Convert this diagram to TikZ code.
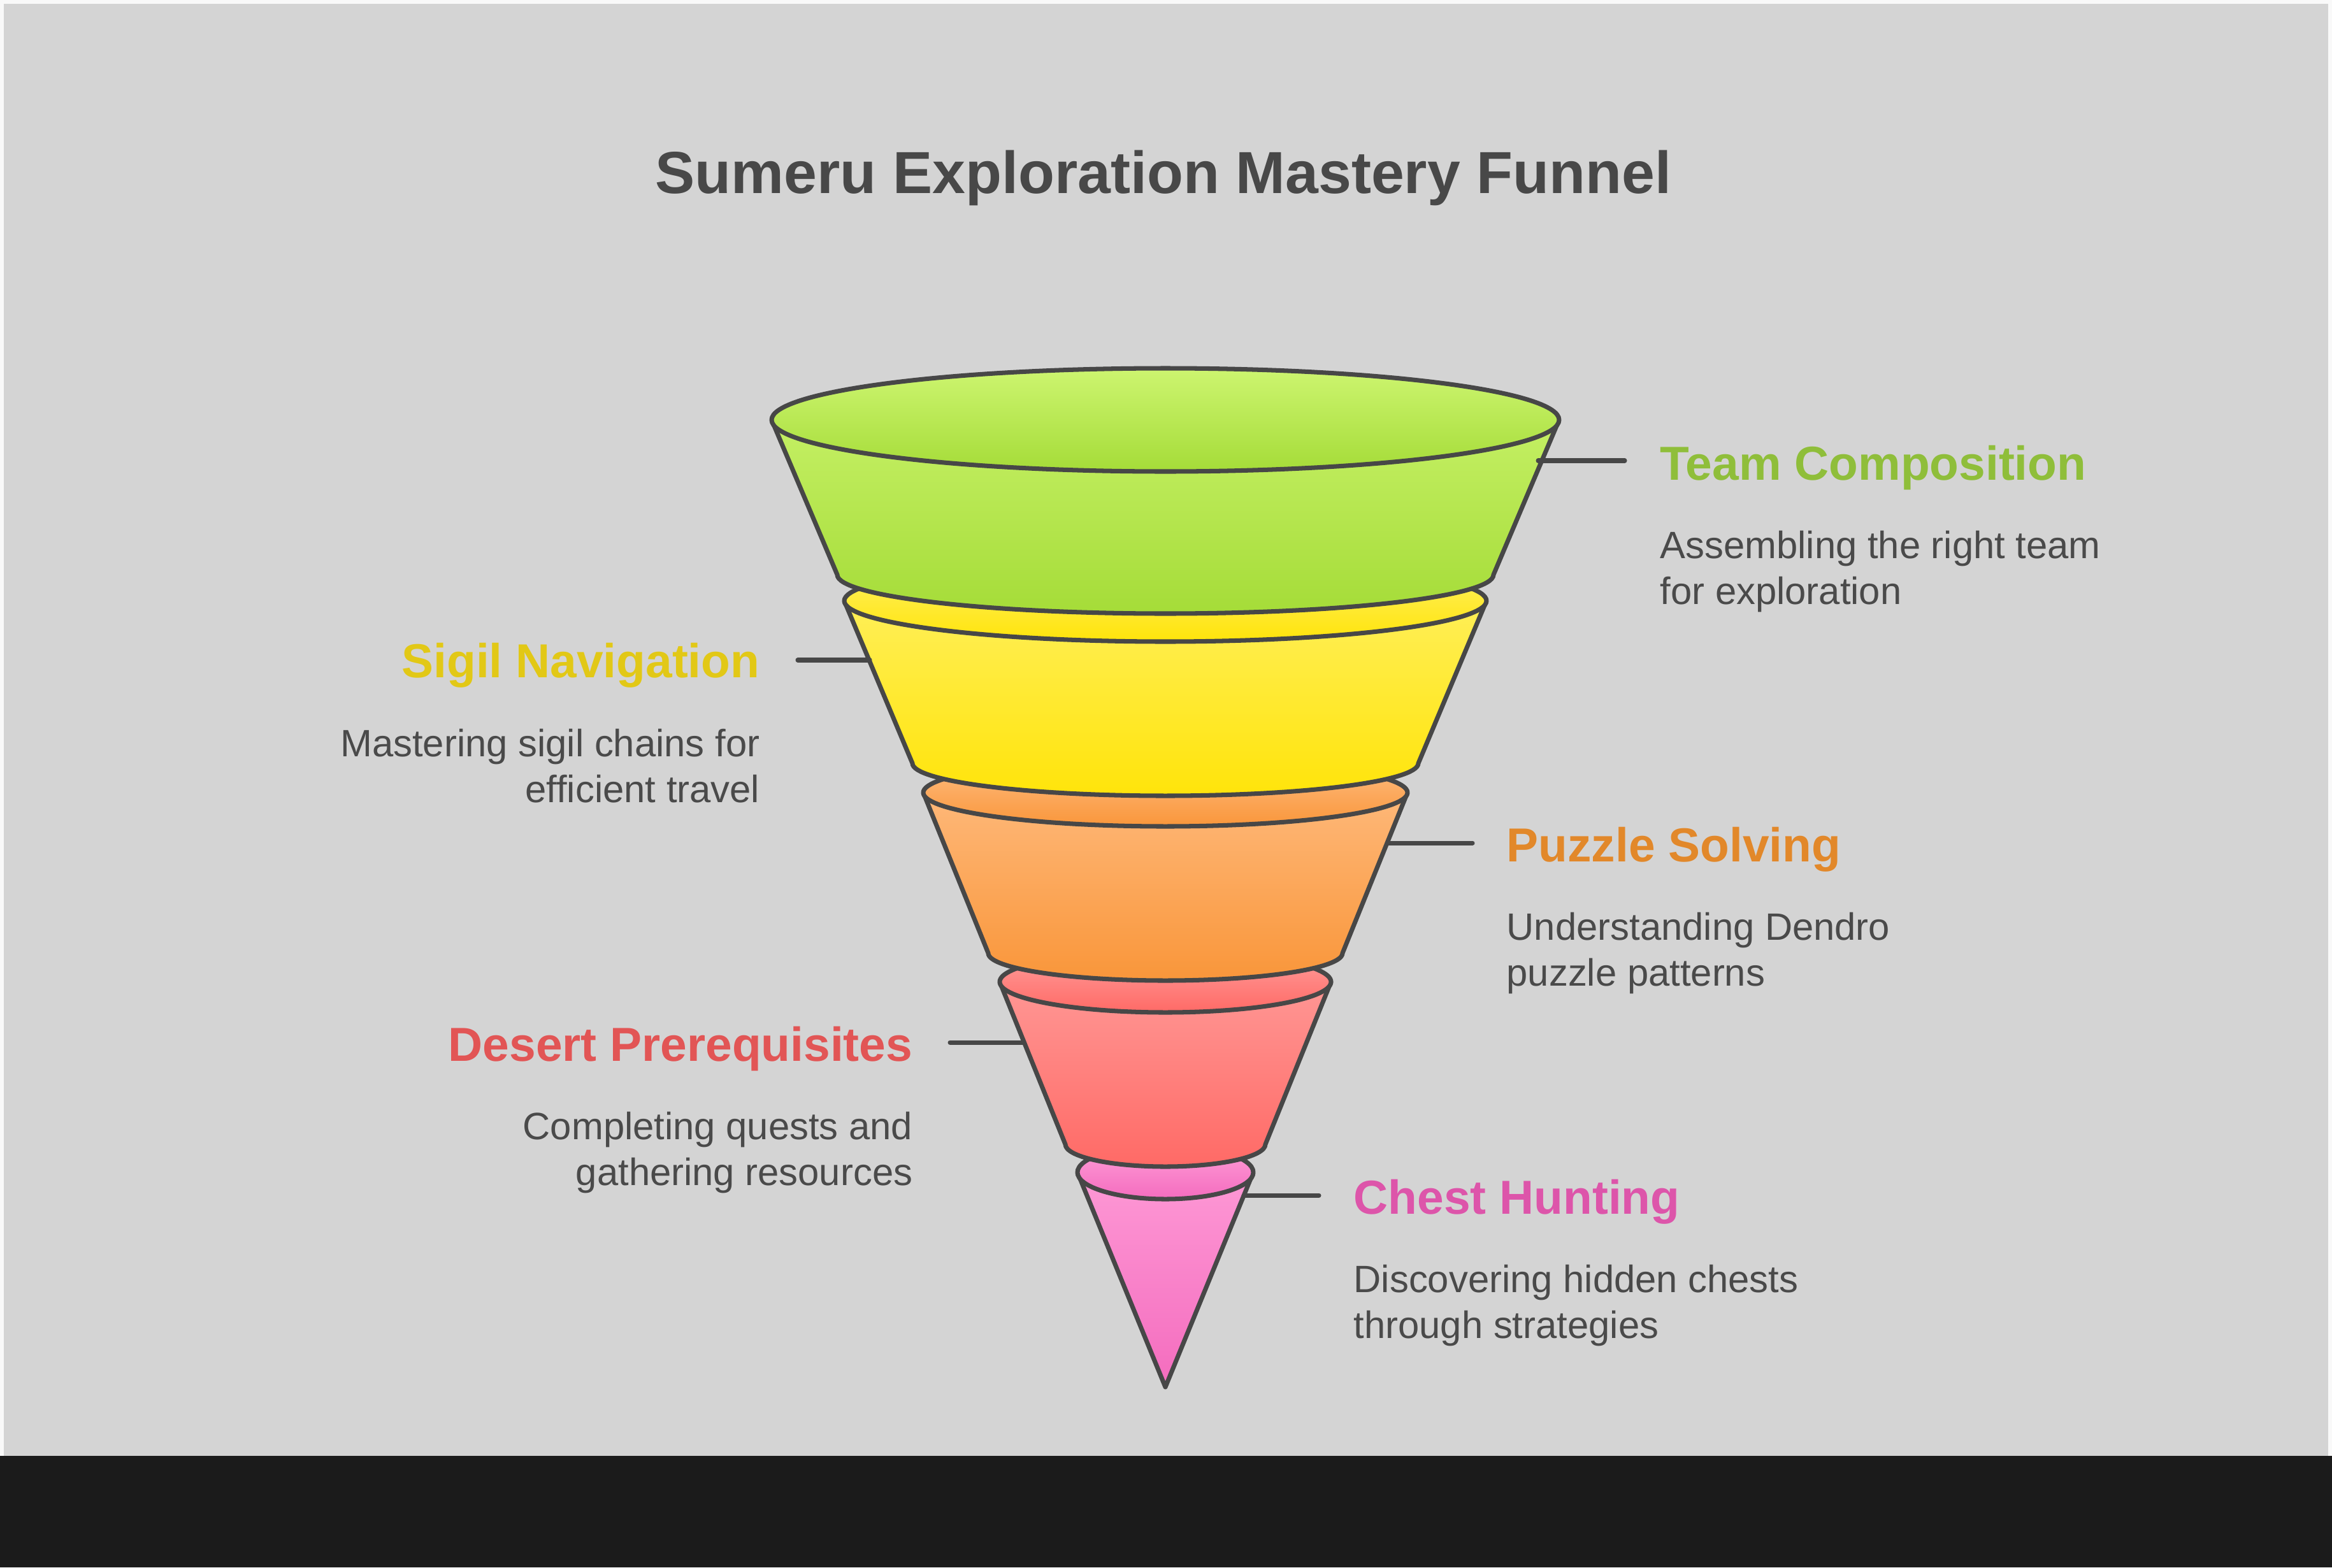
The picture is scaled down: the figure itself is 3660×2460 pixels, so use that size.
\documentclass[tikz,border=0pt]{standalone}
\usepackage{fontspec}
\setmainfont{Liberation Sans}
\usetikzlibrary{calc}
\definecolor{pagebg}{HTML}{F9F9F9}
\definecolor{canvas}{HTML}{D4D4D4}
\definecolor{footbar}{HTML}{1B1B1B}
\definecolor{outline}{HTML}{474747}
\definecolor{titlegray}{HTML}{484848}
\definecolor{descgray}{HTML}{4A4A4A}
\definecolor{greenA}{HTML}{CDF570}\definecolor{greenB}{HTML}{A5DC38}\definecolor{greenT}{HTML}{8FBE3A}
\definecolor{yellowA}{HTML}{FFF168}\definecolor{yellowB}{HTML}{FFE40A}\definecolor{yellowT}{HTML}{E2C816}
\definecolor{orangeA}{HTML}{FFBE84}\definecolor{orangeB}{HTML}{F9963A}\definecolor{orangeT}{HTML}{E2882A}
\definecolor{redA}{HTML}{FF9E9C}\definecolor{redB}{HTML}{FF6A66}\definecolor{redT}{HTML}{E25555}
\definecolor{pinkA}{HTML}{FF9ED8}\definecolor{pinkB}{HTML}{F46CBE}\definecolor{pinkT}{HTML}{DD55AA}
\tikzset{
  segline/.style={draw=outline, line width=2pt, line join=round},
  lead/.style={draw=outline, line width=2pt, line cap=round},
  head/.style={inner sep=0pt, font=\fontsize{21.3}{25}\selectfont\bfseries},
  desc/.style={inner sep=0pt, text=descgray, font=\fontsize{17}{20.2}\selectfont},
}
% one slice of the funnel: (top y:top rx:top ry)(bottom y:bottom rx:bottom ry){light}{dark}
\def\funnelseg(#1:#2:#3)(#4:#5:#6)#7#8{%
  \shade[top color=#7, bottom color=#8] (1829-#2,#1) -- (1829-#5,#4) arc[start angle=180, end angle=0, x radius=#5, y radius=#6] -- (1829+#2,#1) arc[start angle=0, end angle=-180, x radius=#2, y radius=#3] -- cycle;
  \draw[segline] (1829-#2,#1) -- (1829-#5,#4) arc[start angle=180, end angle=0, x radius=#5, y radius=#6] -- (1829+#2,#1);
  \shadedraw[top color=#7, bottom color=#8, segline] (1829,#1) ellipse[x radius=#2, y radius=#3];
}
\begin{document}
\begin{tikzpicture}[x=0.01cm, y=-0.01cm]
  \useasboundingbox (0,0) rectangle (3660,2460);
  \fill[pagebg] (0,0) rectangle (3660,2460);
  \fill[canvas] (6,6) rectangle (3654,2285);
  \fill[footbar] (0,2285) rectangle (3660,2460);

  \node[inner sep=0pt, anchor=base, text=titlegray, font=\fontsize{26.5}{32}\selectfont\bfseries] (title) at (1826,303) {Sumeru Exploration Mastery Funnel};

  %%%%% funnel, drawn from the tip upwards %%%%%
  \shade[top color=pinkA, bottom color=pinkB] (1691,1840) -- (1829,2177) -- (1967,1840) arc[start angle=0, end angle=-180, x radius=138, y radius=42] -- cycle;
  \draw[segline] (1691,1840) -- (1829,2177) -- (1967,1840);
  \shadedraw[top color=pinkA, bottom color=pinkB, segline] (1829,1840) ellipse[x radius=138, y radius=42];
  \funnelseg(1541:260:48)(1796:157:35){redA}{redB}
  \funnelseg(1244:380:53)(1496:278:43){orangeA}{orangeB}
  \funnelseg(943:504:64)(1198:397:51){yellowA}{yellowB}
  \funnelseg(659:618:81)(902:515:61){greenA}{greenB}

  %%%%% leaders %%%%%
  \coordinate (team-side) at (2414,723);
  \coordinate (team-end) at (2550,723);
  \coordinate (sigil-side) at (1365,1036);
  \coordinate (sigil-end) at (1252,1036);
  \coordinate (puzzle-side) at (2177,1323);
  \coordinate (puzzle-end) at (2311,1323);
  \coordinate (desert-side) at (1607,1636);
  \coordinate (desert-end) at (1491,1636);
  \coordinate (chest-side) at (1952,1876);
  \coordinate (chest-end) at (2070,1876);
  \draw[lead] (team-side) -- (team-end);
  \draw[lead] (sigil-side) -- (sigil-end);
  \draw[lead] (puzzle-side) -- (puzzle-end);
  \draw[lead] (desert-side) -- (desert-end);
  \draw[lead] (chest-side) -- (chest-end);

  %%%%% labels (desc nodes sit on the baseline of their last line) %%%%%
  \node[head, text=greenT, anchor=base west] (team) at (2605,753) {Team Composition};
  \node[desc, align=left, anchor=base west] (team-desc) at (2605,948) {Assembling the right team\\for exploration};
  \node[head, text=yellowT, anchor=base east] (sigil) at (1193,1063) {Sigil Navigation};
  \node[desc, align=right, anchor=base east] (sigil-desc) at (1193,1259) {Mastering sigil chains for\\efficient travel};
  \node[head, text=orangeT, anchor=base west] (puzzle) at (2364,1352) {Puzzle Solving};
  \node[desc, align=left, anchor=base west] (puzzle-desc) at (2364,1547) {Understanding Dendro\\puzzle patterns};
  \node[head, text=redT, anchor=base east] (desert) at (1433,1665) {Desert Prerequisites};
  \node[desc, align=right, anchor=base east] (desert-desc) at (1433,1860) {Completing quests and\\gathering resources};
  \node[head, text=pinkT, anchor=base west] (chest) at (2124,1905) {Chest Hunting};
  \node[desc, align=left, anchor=base west] (chest-desc) at (2124,2100) {Discovering hidden chests\\through strategies};
\end{tikzpicture}
\end{document}
